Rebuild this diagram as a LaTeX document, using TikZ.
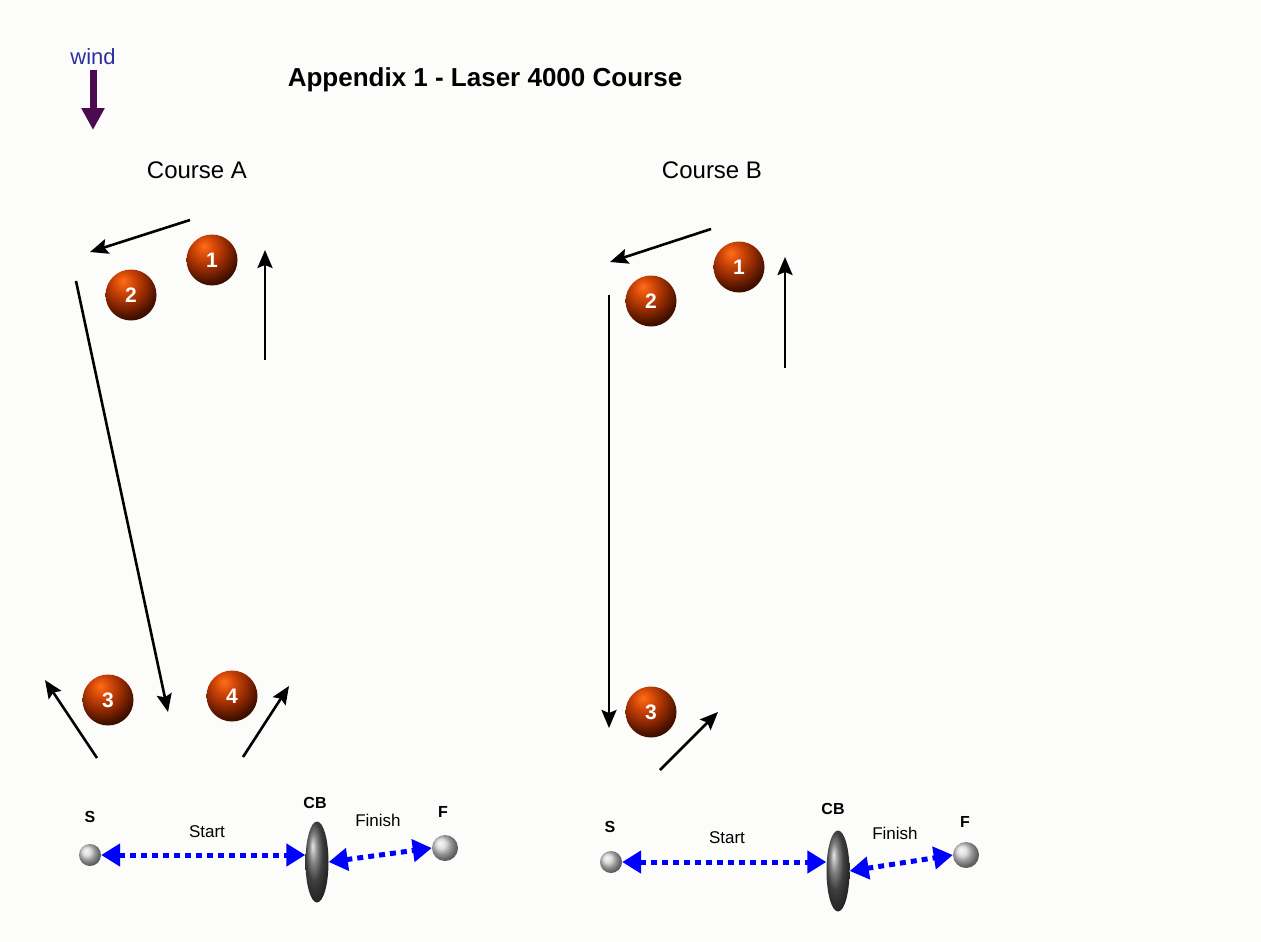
\documentclass[tikz,border=0pt]{standalone}
\usepackage{fontspec}
\setmainfont{Liberation Sans}
\usepackage{tikz}
\usetikzlibrary{positioning,arrows.meta,shapes.geometric}
\definecolor{paper}{HTML}{FCFCFB}
\definecolor{windarrow}{HTML}{4B0B4E}
\definecolor{windtext}{HTML}{2E2EA0}
\definecolor{buoy0}{HTML}{FF6E1A}
\definecolor{buoy1}{HTML}{D84A08}
\definecolor{buoy2}{HTML}{962C02}
\definecolor{buoy3}{HTML}{4A1200}
\definecolor{buoy4}{HTML}{120300}
\definecolor{startline}{HTML}{0000FF}
\pgfdeclareradialshading{buoyball}{\pgfpoint{-8bp}{14bp}}{color(0bp)=(buoy0); color(9bp)=(buoy1); color(20bp)=(buoy2); color(31bp)=(buoy3); color(42bp)=(buoy4); color(100bp)=(buoy4)}

\begin{document}
\begin{tikzpicture}[x=1pt,y=-1pt]
    \tikzstyle{buoy}=[circle, minimum size=51pt, inner sep=0pt, shading=buoyball, text=white, font=\bfseries\fontsize{21}{21}\selectfont]
    \tikzstyle{pinend}=[circle, minimum size=22pt, inner sep=0pt, ball color=gray!35]
    \tikzstyle{cboat}=[ellipse, minimum width=23pt, minimum height=81pt, inner sep=0pt, ball color=black!65]
    \tikzstyle{leg}=[line width=2.6pt, -{Stealth[length=18pt,width=15pt,inset=3pt]}]
    \tikzstyle{startarrow}=[startline, line width=5pt, dash pattern=on 6pt off 5pt, {Triangle[length=19pt,width=22pt]}-{Triangle[length=19pt,width=22pt]}]
    \tikzstyle{boatlabel}=[font=\bfseries\fontsize{16}{16}\selectfont]
    \tikzstyle{smalltext}=[font=\fontsize{17}{17}\selectfont]
    \tikzstyle{heading}=[font=\fontsize{24}{24}\selectfont]
    \useasboundingbox (0,0) rectangle (1261,942);
    \fill[paper] (0,0) rectangle (1261,942);

    % Wind
    \node[text=windtext, font=\fontsize{22}{22}\selectfont] (windlabel) at (93,57) {wind};
    \coordinate (windtail) at (93,70);
    \coordinate (windtip) at (93,130);
    \draw[windarrow, line width=7pt, -{Triangle[length=22pt,width=22pt]}] (windtail) -- (windtip);

    % Titles
    \node[font=\bfseries\fontsize{26}{26}\selectfont] (title) at (485,80) {Appendix 1 - Laser 4000 Course};
    \node[heading] (coursea) at (197,170) {Course A};
    \node[heading] (courseb) at (712,170) {Course B};

    % Course A
    \node[buoy] (a1) at (212,260) {1};
    \node[buoy] (a2) at (131,295) {2};
    \node[buoy] (a3) at (108,700) {3};
    \node[buoy] (a4) at (232,696) {4};

    \coordinate (aup) at (265,360);
    \coordinate (aupend) at (265,250);
    \coordinate (areach) at (190,220);
    \coordinate (areachend) at (90,252);
    \coordinate (arun) at (76,281);
    \coordinate (arunend) at (168,712);
    \coordinate (aout) at (97,758);
    \coordinate (aoutend) at (45,680);
    \coordinate (ain) at (243,757);
    \coordinate (ainend) at (289,686);

    \draw[leg] (aup) -- (aupend);
    \draw[leg] (areach) -- (areachend);
    \draw[leg] (arun) -- (arunend);
    \draw[leg] (aout) -- (aoutend);
    \draw[leg] (ain) -- (ainend);

    \node[pinend] (sa) at (90,855) {};
    \node[cboat] (cba) at (317,862) {};
    \node[pinend, minimum size=26pt] (fa) at (445,848) {};
    \node[boatlabel] (salabel) at (90,817) {S};
    \node[boatlabel] (cbalabel) at (315,803) {CB};
    \node[boatlabel] (falabel) at (443,812) {F};
    \node[smalltext] (starta) at (207,832) {Start};
    \node[smalltext] (finisha) at (378,820) {Finish};

    \draw[startarrow] (sa.east) -- (sa.east -| cba.west);
    \draw[startarrow] (cba.east) -- (fa.west);

    % Course B
    \node[buoy] (b1) at (739,267) {1};
    \node[buoy] (b2) at (651,301) {2};
    \node[buoy] (b3) at (651,712) {3};

    \coordinate (bup) at (785,368);
    \coordinate (bupend) at (785,257);
    \coordinate (breach) at (711,229);
    \coordinate (breachend) at (610,262);
    \coordinate (brun) at (609,295);
    \coordinate (brunend) at (609,728);
    \coordinate (bin) at (660,770);
    \coordinate (binend) at (718,712);

    \draw[leg] (bup) -- (bupend);
    \draw[leg] (breach) -- (breachend);
    \draw[leg] (brun) -- (brunend);
    \draw[leg] (bin) -- (binend);

    \node[pinend] (sb) at (611,862) {};
    \node[cboat] (cbb) at (838,871) {};
    \node[pinend, minimum size=26pt] (fb) at (966,855) {};
    \node[boatlabel] (sblabel) at (610,827) {S};
    \node[boatlabel] (cbblabel) at (833,809) {CB};
    \node[boatlabel] (fblabel) at (965,822) {F};
    \node[smalltext] (startb) at (727,838) {Start};
    \node[smalltext] (finishb) at (895,833) {Finish};

    \draw[startarrow] (sb.east) -- (sb.east -| cbb.west);
    \draw[startarrow] (cbb.east) -- (fb.west);
\end{tikzpicture}
\end{document}
